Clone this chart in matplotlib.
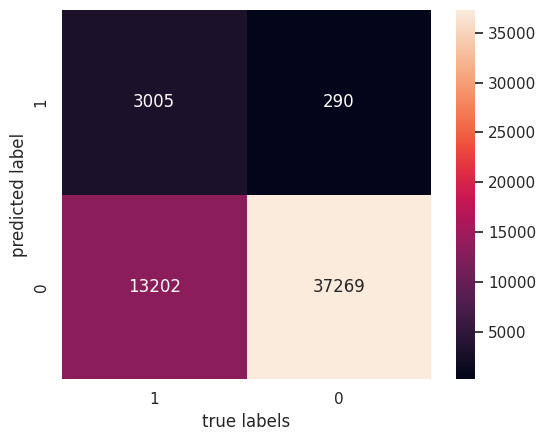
import matplotlib

matplotlib.use("Agg")
import matplotlib.pyplot as plt  # noqa: E402
import numpy as np  # noqa: E402
import seaborn as sns  # noqa: E402

sns.set()

row_labels = ["1", "0"]
col_labels = ["1", "0"]
counts = np.array([
    [3005, 290],
    [13202, 37269],
])

fig = plt.figure(figsize=(5.46, 4.41), dpi=100)
ax = fig.add_axes([62 / 546, 62 / 441, 369 / 546, 369 / 441])
cax = fig.add_axes([456 / 546, 62 / 441, 19 / 546, 369 / 441])

sns.heatmap(counts, annot=True, fmt="d", ax=ax, cbar_ax=cax,
            xticklabels=col_labels, yticklabels=row_labels)
ax.set_xlabel("true labels")
ax.set_ylabel("predicted label")

fig.savefig("out.png", dpi=100)
